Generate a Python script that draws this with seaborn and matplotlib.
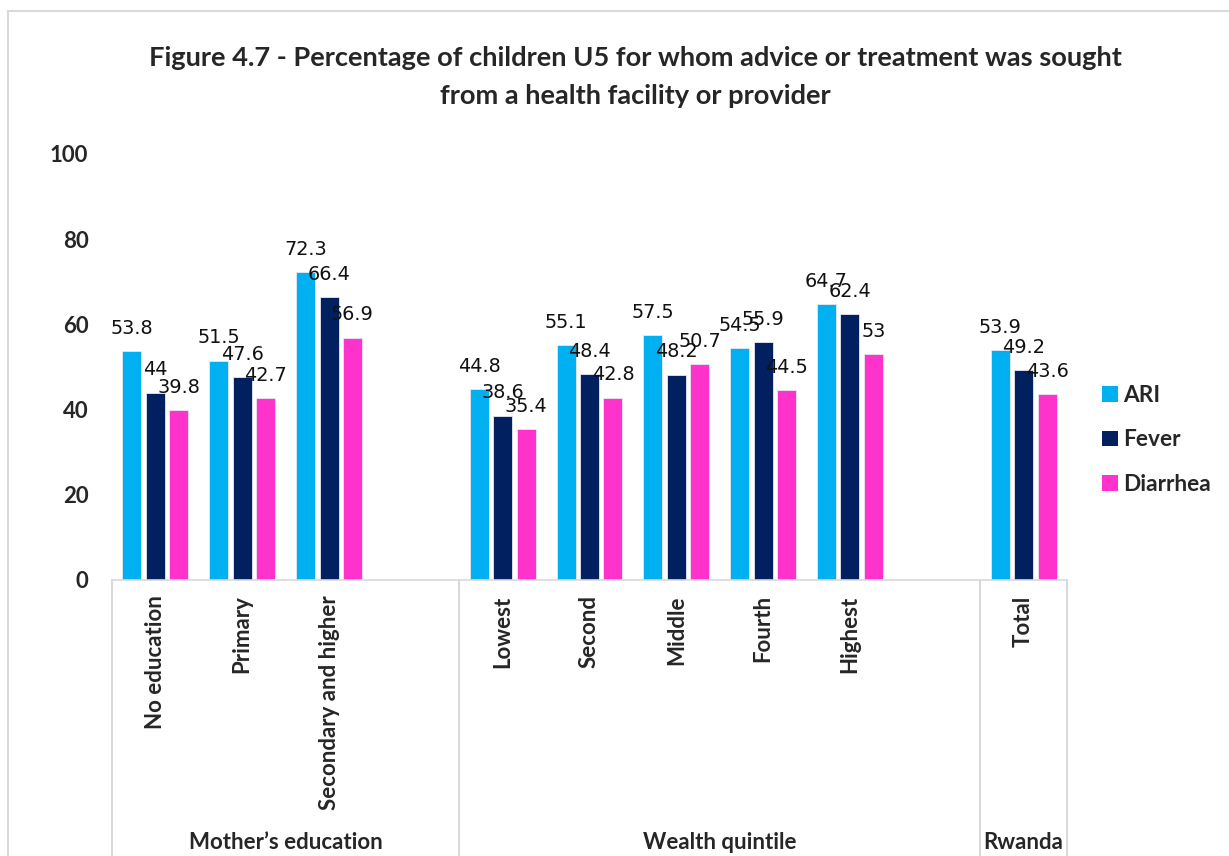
import matplotlib
matplotlib.use("Agg")
import matplotlib.pyplot as plt
import seaborn as sns
import pandas as pd
from matplotlib.patches import Patch
from matplotlib.lines import Line2D

# ---- data ----
edu_categories = ["No education", "Primary", "Secondary and higher"]
wealth_categories = ["Lowest", "Second", "Middle", "Fourth", "Highest"]
total_categories = ["Total"]
group_names = ["Mother\u2019s education", "Wealth quintile", "Rwanda"]
series_names = ["ARI", "Fever", "Diarrhea"]
ari = [53.8, 51.5, 72.3, 44.8, 55.1, 57.5, 54.5, 64.7, 53.9]
fever = [44, 47.6, 66.4, 38.6, 48.4, 48.2, 55.9, 62.4, 49.2]
diarrhea = [39.8, 42.7, 56.9, 35.4, 42.8, 50.7, 44.5, 53, 43.6]
y_ticks = [0, 20, 40, 60, 80, 100]
title = ("Figure 4.7 - Percentage of children U5 for whom advice or treatment was sought\n"
         "from a health facility or provider")

colors = ["#00B0F0", "#002060", "#FF33CC"]

categories = edu_categories + wealth_categories + total_categories
df = pd.DataFrame({
    "category": categories * 3,
    "series": [s for s in series_names for _ in categories],
    "value": ari + fever + diarrhea,
})
order = edu_categories + [" "] + wealth_categories + ["  "] + total_categories

sns.set_theme(style="white")
plt.rcParams["font.family"] = ["Lato", "DejaVu Sans"]

W, H = 1229, 856
fig = plt.figure(figsize=(W / 100, H / 100), dpi=100)
ax = fig.add_axes([112 / W, 1 - 580 / H, (1067 - 112) / W, (580 - 154) / H])

sns.barplot(data=df, x="category", y="value", hue="series", order=order,
            hue_order=series_names, palette=colors, width=0.81, gap=0.19,
            edgecolor="#E8E8F0", linewidth=0.6, saturation=1, ax=ax, legend=False)

for cont in ax.containers:
    ax.bar_label(cont, fmt="%g", padding=9.5, fontsize=13.9,
                 family="DejaVu Sans", color="#111111")

ax.set_ylim(0, 100)
ax.set_xlim(-0.5, len(order) - 0.5)
ax.set_yticks(y_ticks)
ax.set_yticklabels([str(t) for t in y_ticks], fontweight="bold", fontsize=16)
ax.tick_params(axis="y", length=0, pad=17)
ax.tick_params(axis="x", length=0, pad=11)
ax.set_xticks(range(len(order)))
ax.set_xticklabels([c.strip() for c in order], rotation=90, fontweight="bold",
                   fontsize=16, va="top", ha="center")
ax.set_xlabel("")
ax.set_ylabel("")
for s in ["left", "top", "right"]:
    ax.spines[s].set_visible(False)
ax.spines["bottom"].set_color("#D9D9D9")
ax.spines["bottom"].set_linewidth(1.2)

# group separators below the axis
sep_color = "#D9D9D9"
trans = ax.get_xaxis_transform()
bounds = [-0.5, len(edu_categories) + 0.5,
          len(edu_categories) + 1 + len(wealth_categories) + 0.5, len(order) - 0.5]
for b in bounds:
    ax.add_line(Line2D([b, b], [0, -1], transform=trans, color=sep_color,
                       lw=1.5, clip_on=False))
for i, g in enumerate(group_names):
    cx = (bounds[i] + bounds[i + 1]) / 2
    ax.text(cx, -0.617, g, transform=trans, ha="center", va="center",
            fontweight="bold", fontsize=16)

# legend
handles = [Patch(facecolor=c, edgecolor="none") for c in colors]
fig.legend(handles, series_names, loc="center left",
           bbox_to_anchor=(1082 / W, 1 - 440 / H), frameon=False,
           prop={"weight": "bold", "size": 16.3}, handlelength=0.68,
           handleheight=0.68, handletextpad=0.25, labelspacing=1.04)

fig.text(0.517, 1 - 77 / H, title, ha="center", va="center", fontweight="bold",
         fontsize=19.6, linespacing=1.7)

# chart border
fig.add_artist(Line2D([8 / W, 8 / W], [0, 1 - 11 / H], color="#D9D9D9", lw=1.5))
fig.add_artist(Line2D([8 / W, 1], [1 - 11 / H, 1 - 11 / H], color="#D9D9D9", lw=1.5))

fig.savefig("out.png", dpi=100)
